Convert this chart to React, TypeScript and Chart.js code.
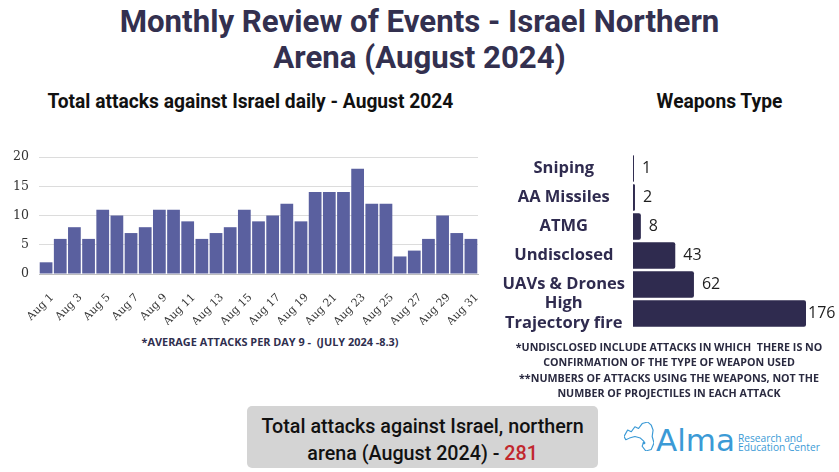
import React, { useEffect, useRef } from "react";
import { Chart, registerables } from "chart.js";

Chart.register(...registerables);

const days: string[] = Array.from({ length: 31 }, (_, i) => `Aug ${i + 1}`);
const dailyAttacks: number[] = [2, 6, 8, 6, 11, 10, 7, 8, 11, 11, 9, 6, 7, 8, 11, 9, 10, 12, 9, 14, 14, 14, 18, 12, 12, 3, 4, 6, 10, 7, 6];
const yTicks: number[] = [0, 5, 10, 15, 20];

const weaponLabels: (string | string[])[] = ["Sniping", "AA Missiles", "ATMG", "Undisclosed", "UAVs & Drones", ["High", "Trajectory fire"]];
const weaponValues: number[] = [1, 2, 8, 43, 62, 176];

const NAVY = "#2f2b4f";

const zeroPad = (s: any) => {
  s.paddingTop = 0;
  s.paddingBottom = 0;
  s.paddingLeft = 0;
  s.paddingRight = 0;
};

const valueLabelPlugin = {
  id: "valueLabels",
  afterDatasetsDraw(chart: any) {
    const ctx = chart.ctx;
    const meta = chart.getDatasetMeta(0);
    ctx.save();
    ctx.font = "400 16px 'Open Sans'";
    ctx.fillStyle = "#1e1e1e";
    ctx.textAlign = "left";
    ctx.textBaseline = "middle";
    meta.data.forEach((bar: any, i: number) => {
      const v = chart.data.datasets[0].data[i];
      const gap = i === meta.data.length - 1 ? 2 : 8;
      ctx.fillText(String(v), bar.x + gap, bar.y);
    });
    ctx.restore();
  },
};

function DailyChart() {
  const ref = useRef<HTMLCanvasElement>(null);
  useEffect(() => {
    const chart = new Chart(ref.current!, {
      type: "bar",
      data: {
        labels: days,
        datasets: [
          {
            data: dailyAttacks,
            backgroundColor: "#5a609f",
            borderWidth: 0,
            barPercentage: 0.9,
            categoryPercentage: 1,
          },
        ],
      },
      options: {
        animation: false,
        responsive: true,
        maintainAspectRatio: false,
        layout: { padding: { top: 7, right: 7, left: 0, bottom: 0 } },
        plugins: { legend: { display: false }, tooltip: { enabled: false } },
        scales: {
          x: {
            grid: { display: false },
            border: { display: true, color: "#bdbdbd", width: 1 },
            afterFit: (s: any) => {
              s.height = 51;
              zeroPad(s);
            },
            ticks: {
              autoSkip: false,
              maxRotation: 45,
              minRotation: 45,
              padding: 9,
              labelOffset: 6,
              color: "#333",
              font: { family: "'DejaVu Serif'", size: 11 },
              callback: (_v: any, i: number) => (i % 2 === 0 ? days[i] : ""),
            },
          },
          y: {
            min: 0,
            max: 20,
            afterFit: (s: any) => {
              s.width = 39;
              zeroPad(s);
            },
            afterBuildTicks: (s: any) => {
              s.ticks = yTicks.map((v) => ({ value: v }));
            },
            grid: { color: "#dcdcdc", drawTicks: false, lineWidth: 1 },
            border: { display: false },
            ticks: {
              padding: 10,
              color: "#333",
              font: { family: "'DejaVu Serif'", size: 12.5 },
            },
          },
        },
      },
    });
    return () => chart.destroy();
  }, []);
  return <canvas ref={ref} />;
}

function WeaponsChart() {
  const ref = useRef<HTMLCanvasElement>(null);
  useEffect(() => {
    const chart = new Chart(ref.current!, {
      type: "bar",
      data: {
        labels: weaponLabels as any,
        datasets: [
          {
            data: weaponValues,
            backgroundColor: NAVY,
            borderRadius: 2,
            borderSkipped: "start",
            barPercentage: 0.92,
            categoryPercentage: 1,
          },
        ],
      },
      options: {
        indexAxis: "y",
        animation: false,
        responsive: true,
        maintainAspectRatio: false,
        layout: { padding: { top: 9, right: 33, left: 0, bottom: 17 } },
        plugins: { legend: { display: false }, tooltip: { enabled: false } },
        scales: {
          x: { display: false, min: 0, max: 176 },
          y: {
            afterFit: (s: any) => {
              s.width = 143;
              zeroPad(s);
            },
            grid: { display: false, drawTicks: false },
            border: { display: false },
            ticks: {
              autoSkip: false,
              crossAlign: "center",
              padding: 8,
              color: NAVY,
              font: { family: "'Open Sans'", size: 16.5, weight: "bold", lineHeight: 1.2 },
            },
          },
        },
      },
      plugins: [valueLabelPlugin],
    });
    return () => chart.destroy();
  }, []);
  return <canvas ref={ref} />;
}

const abs = (l: number, t: number, w: number, h: number): React.CSSProperties => ({
  position: "absolute",
  left: l,
  top: t,
  width: w,
  height: h,
});

export default function App() {
  return (
    <div
      style={{
        position: "fixed",
        left: 0,
        top: 0,
        width: 839,
        height: 472,
        background: "#ffffff",
        overflow: "hidden",
        fontFamily: "Roboto, 'Open Sans', sans-serif",
      }}
    >
      <div
        style={{
          ...abs(0, 3, 839, 80),
          textAlign: "center",
          color: "#33304f",
          fontSize: 32,
          fontWeight: 700,
          lineHeight: "36px",
        }}
      >
        <div style={{ display: "inline-block", transform: "scaleX(0.975)", transformOrigin: "center", whiteSpace: "nowrap" }}>
          Monthly Review of Events - Israel Northern
          <br />
          Arena (August 2024)
        </div>
      </div>

      <div
        style={{
          ...abs(0, 88, 500, 26),
          textAlign: "center",
          color: "#111",
          fontSize: 20,
          fontWeight: 700,
          lineHeight: "26px",
        }}
      >
        <div style={{ display: "inline-block", transform: "scaleX(0.96)", whiteSpace: "nowrap" }}>
          Total attacks against Israel daily - August 2024
        </div>
      </div>

      <div
        style={{
          ...abs(619, 88, 200, 26),
          textAlign: "center",
          color: "#111",
          fontSize: 20,
          fontWeight: 700,
          lineHeight: "26px",
        }}
      >
        <div style={{ display: "inline-block", transform: "scaleX(0.96)", whiteSpace: "nowrap" }}>Weapons Type</div>
      </div>

      <div style={abs(0, 150, 485, 175)}>
        <DailyChart />
      </div>

      <div
        style={{
          ...abs(60, 335, 420, 14),
          textAlign: "center",
          color: "#2f2f4f",
          fontFamily: "'Open Sans', sans-serif",
          fontSize: 10.9,
          fontWeight: 700,
          lineHeight: "14px",
          whiteSpace: "pre",
        }}
      >
        {"*AVERAGE ATTACKS PER DAY 9 -  (JULY 2024 -8.3)"}
      </div>

      <div style={abs(490, 145, 349, 200)}>
        <WeaponsChart />
      </div>

      <div
        style={{
          ...abs(490, 340, 358, 64),
          textAlign: "center",
          color: "#2a2a40",
          fontFamily: "'Open Sans', sans-serif",
          fontSize: 10.7,
          fontWeight: 700,
          lineHeight: "15.3px",
          whiteSpace: "pre",
        }}
      >
        {"*UNDISCLOSED INCLUDE ATTACKS IN WHICH  THERE IS NO\nCONFIRMATION OF THE TYPE OF WEAPON USED\n**NUMBERS OF ATTACKS USING THE WEAPONS, NOT THE\nNUMBER OF PROJECTILES IN EACH ATTACK"}
      </div>

      <div
        style={{
          ...abs(247, 406, 351, 62),
          background: "#d4d4d4",
          borderRadius: 5,
          textAlign: "center",
          color: "#111",
          fontSize: 20,
          fontWeight: 500,
          lineHeight: "27px",
          paddingTop: 7,
          boxSizing: "border-box",
        }}
      >
        <div style={{ display: "inline-block", transform: "scaleX(0.985)", whiteSpace: "nowrap" }}>
          Total attacks against Israel, northern
          <br />
          arena (August 2024) - <span style={{ color: "#c1272d" }}>281</span>
        </div>
      </div>

      <div style={{ ...abs(622, 420, 215, 45), color: "#3b9ad6" }}>
        <svg
          width="30"
          height="29"
          viewBox="2 4 33 36"
          preserveAspectRatio="none"
          style={{ position: "absolute", left: 2, top: 2 }}
        >
          <path
            d="M2 22 L6 14 L10 16 L14 10 L18 12 L22 6 L28 4 L32 8 L34 14 L33 22 L35 30 L32 38 L26 40 L22 34 L24 28 L20 24 L14 22 L8 24 L4 26 Z"
            fill="none"
            stroke="#3b9ad6"
            strokeWidth="1.3"
            strokeLinejoin="round"
          />
          <circle cx="24" cy="30" r="1.6" fill="#3b9ad6" />
        </svg>
        <div
          style={{
            position: "absolute",
            left: 34,
            top: 2,
            fontFamily: "'DejaVu Sans', sans-serif",
            fontSize: 31,
            fontWeight: 400,
            lineHeight: "36px",
          }}
        >
          Alma
        </div>
        <div
          style={{
            position: "absolute",
            left: 116,
            top: 14,
            fontFamily: "'Open Sans', sans-serif",
            fontSize: 10.2,
            lineHeight: "9px",
            whiteSpace: "nowrap",
          }}
        >
          Research and
          <br />
          Education Center
        </div>
      </div>
    </div>
  );
}
